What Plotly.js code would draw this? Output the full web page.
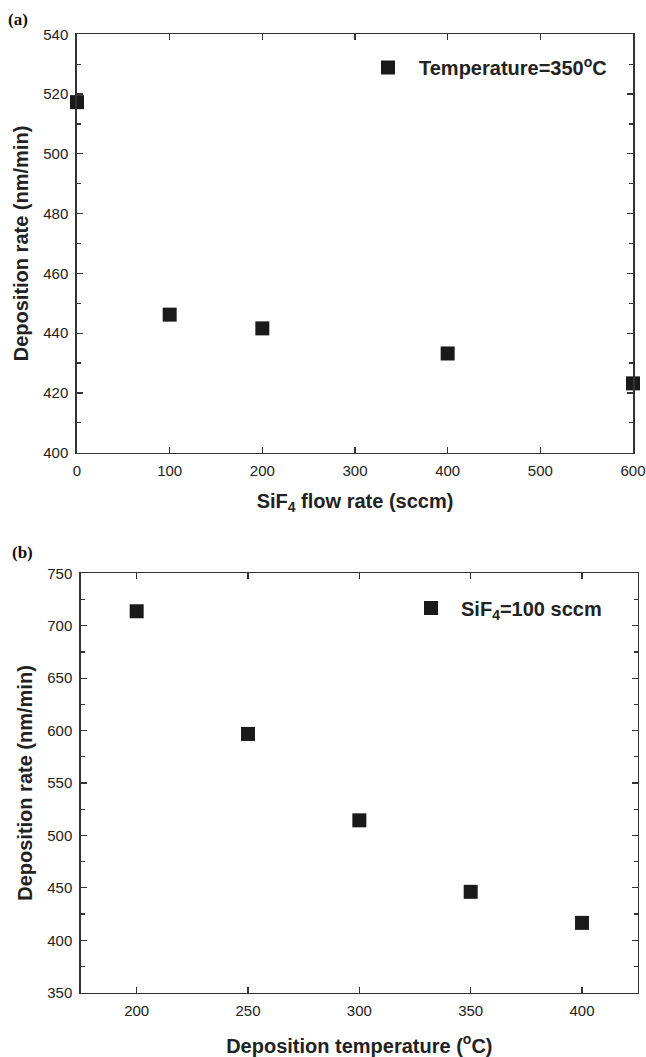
<!DOCTYPE html>
<html>
<head>
<meta charset="utf-8">
<script src="https://cdn.plot.ly/plotly-3.0.1.min.js"></script>
<style>html,body{margin:0;padding:0;background:#fff;}#chart{width:646px;height:1057px;}</style>
</head>
<body>
<div id="chart"></div>
<script>
// Panel (a): deposition rate vs SiF4 flow rate at 350 °C
const flowRates = [0, 100, 200, 400, 600];
const rateA = [517.3, 446.2, 441.6, 433.2, 423.2];
const legendA = 'Temperature=350<sup>o</sup>C';

// Panel (b): deposition rate vs deposition temperature at SiF4 = 100 sccm
const temps = [200, 250, 300, 350, 400];
const rateB = [713.8, 596.8, 514.4, 446.2, 416.6];
const legendB = 'SiF<sub>4</sub>=100 sccm';

const xTicksA = [0, 100, 200, 300, 400, 500, 600];
const yTicksA = [400, 420, 440, 460, 480, 500, 520, 540];
const xTicksB = [200, 250, 300, 350, 400];
const yTicksB = [350, 400, 450, 500, 550, 600, 650, 700, 750];

const W = 646, H = 1057;
const fx = p => p / W;
const fy = p => 1 - p / H;

const FONT = 'Liberation Sans, Arial, Helvetica, sans-serif';
const LINE = '#333333';
const MARK = '#1a1a1a';

const marker = {symbol: 'square', size: 14, color: MARK, line: {width: 0}};

const traces = [
  {x: flowRates, y: rateA, type: 'scatter', mode: 'markers', marker: marker,
   name: legendA, xaxis: 'x', yaxis: 'y', legend: 'legend', cliponaxis: false},
  {x: temps, y: rateB, type: 'scatter', mode: 'markers', marker: marker,
   name: legendB, xaxis: 'x2', yaxis: 'y2', legend: 'legend2', cliponaxis: false}
];

function axisBase(extra) {
  return Object.assign({
    showline: true, linecolor: LINE, linewidth: 1.7, mirror: 'ticks',
    ticks: 'inside', ticklen: 6, tickwidth: 1.3, tickcolor: LINE,
    showgrid: false, zeroline: false,
    tickfont: {family: FONT, size: 15, color: '#222'},
    automargin: false
  }, extra);
}

const titleFont = {family: FONT, size: 20, color: '#222', weight: 'bold'};
const legendFont = {family: FONT, size: 20, color: '#222', weight: 'bold'};

const layout = {
  width: W, height: H,
  margin: {l: 0, r: 0, t: 0, b: 0},
  paper_bgcolor: '#fff', plot_bgcolor: '#fff',
  showlegend: true,
  xaxis: axisBase({
    domain: [fx(77), fx(633)], range: [0, 600], anchor: 'y',
    tickmode: 'array', tickvals: xTicksA, ticktext: xTicksA.map(String),
    ticklabelstandoff: 4,
    title: {text: '<b>SiF<sub>4</sub> flow rate (sccm)</b>', font: titleFont, standoff: 15}
  }),
  yaxis: axisBase({
    domain: [fy(452.7), fy(34.3)], range: [400, 540], anchor: 'x',
    tickmode: 'array', tickvals: yTicksA, ticktext: yTicksA.map(String),
    ticklabelstandoff: 4,
    minor: {dtick: 10, ticks: 'inside', ticklen: 4, tickwidth: 1.2, tickcolor: LINE},
    title: {text: '<b>Deposition rate (nm/min)</b>', font: titleFont, standoff: 9}
  }),
  xaxis2: axisBase({
    domain: [fx(81), fx(637.7)], range: [175, 425], anchor: 'y2',
    tickmode: 'array', tickvals: xTicksB, ticktext: xTicksB.map(String),
    ticklabelstandoff: 4,
    title: {text: '<b>Deposition temperature (<sup>o</sup>C)</b>', font: titleFont, standoff: 20}
  }),
  yaxis2: axisBase({
    domain: [fy(992.7), fy(573.3)], range: [350, 750], anchor: 'x2',
    tickmode: 'array', tickvals: yTicksB, ticktext: yTicksB.map(String),
    ticklabelstandoff: 4,
    minor: {dtick: 25, ticks: 'inside', ticklen: 4, tickwidth: 1.2, tickcolor: LINE},
    title: {text: '<b>Deposition rate (nm/min)</b>', font: titleFont, standoff: 9}
  }),
  legend: {
    x: fx(357), y: fy(67.5), xanchor: 'left', yanchor: 'middle',
    bgcolor: 'rgba(0,0,0,0)', borderwidth: 0, itemwidth: 52,
    font: legendFont
  },
  legend2: {
    x: fx(401), y: fy(608), xanchor: 'left', yanchor: 'middle',
    bgcolor: 'rgba(0,0,0,0)', borderwidth: 0, itemwidth: 50,
    font: legendFont
  },
  annotations: [
    {text: '<b>(a)</b>', xref: 'paper', yref: 'paper', x: fx(6), y: fy(19),
     xanchor: 'left', yanchor: 'middle', showarrow: false,
     font: {family: 'Liberation Serif, Times New Roman, serif', size: 17, color: '#111'}},
    {text: '<b>(b)</b>', xref: 'paper', yref: 'paper', x: fx(10), y: fy(552),
     xanchor: 'left', yanchor: 'middle', showarrow: false,
     font: {family: 'Liberation Serif, Times New Roman, serif', size: 17, color: '#111'}}
  ]
};

Plotly.newPlot('chart', traces, layout, {staticPlot: true, displayModeBar: false});
</script>
</body>
</html>
